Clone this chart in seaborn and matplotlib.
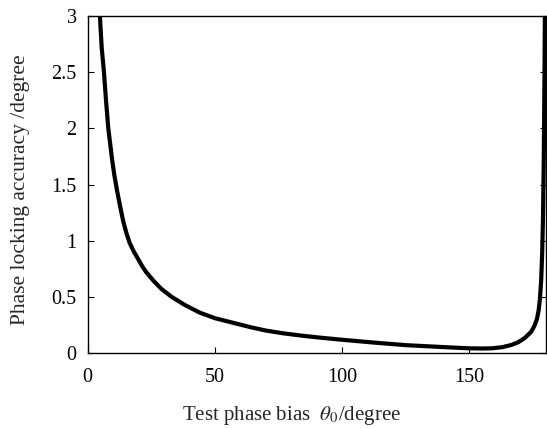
import matplotlib
matplotlib.use("Agg")
import matplotlib.pyplot as plt
import seaborn as sns
import pandas as pd

# Test phase bias (degree)
theta = [4.6, 4.8, 5.5, 6.4, 7.2, 8.1, 9.5, 10.5, 11.6, 12.8, 14.0, 15.2, 16.5,
         18.2, 20.0, 21.5, 23.0, 26.0, 29.0, 33.0, 38.0, 44.0, 50.0, 57.0, 64.0,
         70.0, 77.0, 84.0, 90.0, 99.0, 105.0, 112.0, 125.0, 138.0, 145.0, 150.0,
         155.0, 159.0, 163.0, 166.6, 169.2, 171.9, 174.4, 175.6, 176.6, 177.3,
         177.8, 178.3, 178.7, 179.0, 179.3, 179.6, 179.8]
# Phase locking accuracy (degree)
accuracy = [3.15, 3.0, 2.72, 2.5, 2.25, 2.0, 1.74, 1.58, 1.44, 1.3, 1.17, 1.07,
            0.98, 0.9, 0.83, 0.77, 0.72, 0.64, 0.57, 0.5, 0.43, 0.36, 0.31, 0.27,
            0.23, 0.2, 0.175, 0.155, 0.14, 0.12, 0.108, 0.094, 0.07, 0.055, 0.047,
            0.042, 0.04, 0.042, 0.052, 0.072, 0.095, 0.135, 0.19, 0.24, 0.3, 0.38,
            0.48, 0.65, 0.9, 1.2, 1.7, 2.5, 3.2]

xticks = [0, 50, 100, 150]
yticks = [0, 0.5, 1, 1.5, 2, 2.5, 3]
ytick_labels = ["0", "0.5", "1", "1.5", "2", "2.5", "3"]

sns.set_style("ticks")
plt.rcParams["font.family"] = ["Liberation Serif", "DejaVu Serif"]
plt.rcParams["mathtext.fontset"] = "stix"

df = pd.DataFrame({"theta": theta, "acc": accuracy})

fig = plt.figure(figsize=(5.47, 4.28), dpi=100)
ax = fig.add_axes([0.1603, 0.1752, 0.8370, 0.7874])

sns.lineplot(data=df, x="theta", y="acc", ax=ax, color="black", linewidth=3.0,
             estimator=None, sort=False)

ax.set_xlim(0, 180)
ax.set_ylim(0, 3)
ax.set_xticks(xticks)
ax.set_xticklabels([str(t) for t in xticks])
ax.set_yticks(yticks)
ax.set_yticklabels(ytick_labels)

for s in ax.spines.values():
    s.set_linewidth(1.0)
    s.set_color("black")
    s.set_visible(True)

ax.tick_params(axis="both", direction="in", length=4, width=0.8, labelsize=14.5,
               colors="black")
ax.tick_params(axis="x", pad=11)
ax.tick_params(axis="y", pad=8, right=True)

ax.set_xlabel(r"Test phase bias  $\theta_0$/degree", fontsize=15)
ax.set_ylabel("Phase locking accuracy /degree", fontsize=15.5)
ax.xaxis.set_label_coords(0.446, -0.152)
ax.yaxis.set_label_coords(-0.125, 0.484)

fig.savefig("out.png", dpi=100)
